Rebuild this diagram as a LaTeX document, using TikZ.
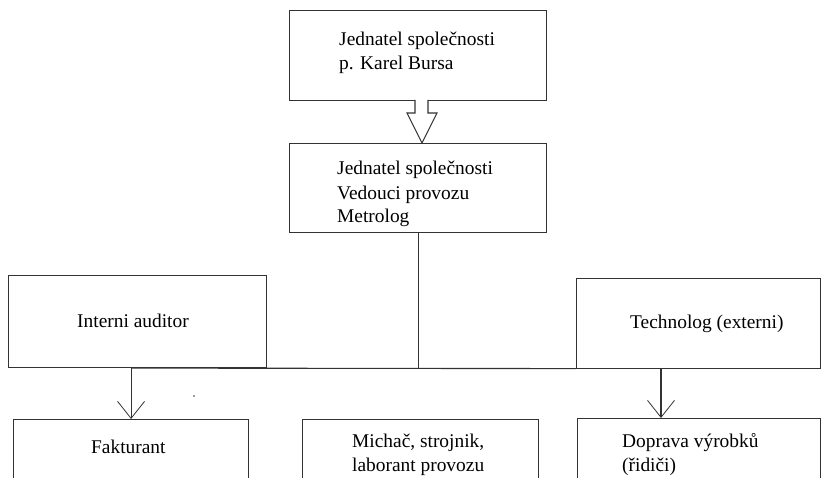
\documentclass[tikz,border=0pt]{standalone}
\usepackage{fontspec}
\setmainfont{Liberation Serif}
\usetikzlibrary{arrows.meta}
\begin{document}
\begin{tikzpicture}[x=1pt,y=-1pt,
  box/.style={draw=black!80, line width=1.1pt, inner sep=0pt, anchor=north west},
  lbl/.style={inner sep=0pt, anchor=base west, align=left, font=\fontsize{19.4}{24}\selectfont},
  link/.style={draw=black!80, line width=1.1pt},
  barb/.style={-{Straight Barb[length=17pt,width=27pt,line width=0.8pt]}}]
\clip (0,0) rectangle (821,478);
\fill[white] (0,0) rectangle (821,478);

% boxes
\node[box, minimum width=257pt, minimum height=90pt] (ceo) at (289,10) {};
\node[box, minimum width=257pt, minimum height=89pt] (mgr) at (289,143) {};
\node[box, minimum width=258pt, minimum height=92pt] (audit) at (8,275) {};
\node[box, minimum width=244pt, minimum height=89.5pt] (tech) at (576,278) {};
\node[box, minimum width=235pt, minimum height=80pt] (fakt) at (13,419) {};
\node[box, minimum width=236pt, minimum height=80pt] (mix) at (302,419) {};
\node[box, minimum width=243pt, minimum height=80pt] (drv) at (577,418) {};

% labels (anchored on the baseline of their last line)
\node[lbl] (ceoT) at (339,70) {Jednatel společnosti\\p. Karel Bursa};
\node[lbl] (mgrT) at (337,223) {Jednatel společnosti\\Vedouci provozu\\Metrolog};
\node[lbl] (auditT) at (77,327) {Interni auditor};
\node[lbl] (techT) at (630,328) {Technolog (externi)};
\node[lbl] (faktT) at (91,453) {Fakturant};
\node[lbl] (mixT) at (352,471) {Michač, strojnik,\\laborant provozu};
\node[lbl] (drvT) at (622,471) {Doprava výrobků\\(řidiči)};

% hollow block arrow between the two top boxes
\draw[link, fill=white] (415,100) -- (415,113) -- (407,113) -- (422,143)
  -- (437,113) -- (428,113) -- (428,100);

% connectors
\draw[link] (mgr.south) -- (mgr.south |- audit.south);
\draw[link] (fakt.north |- audit.south) -- (tech.south west);
\draw[link, barb] (fakt.north |- audit.south) -- (fakt.north);
\coordinate (tap) at (661,367.5);
\draw[link, barb] (tap) -- (tap |- drv.north);

% stray dot
\fill[black!80] (194,396) circle (0.9pt);
\end{tikzpicture}
\end{document}
